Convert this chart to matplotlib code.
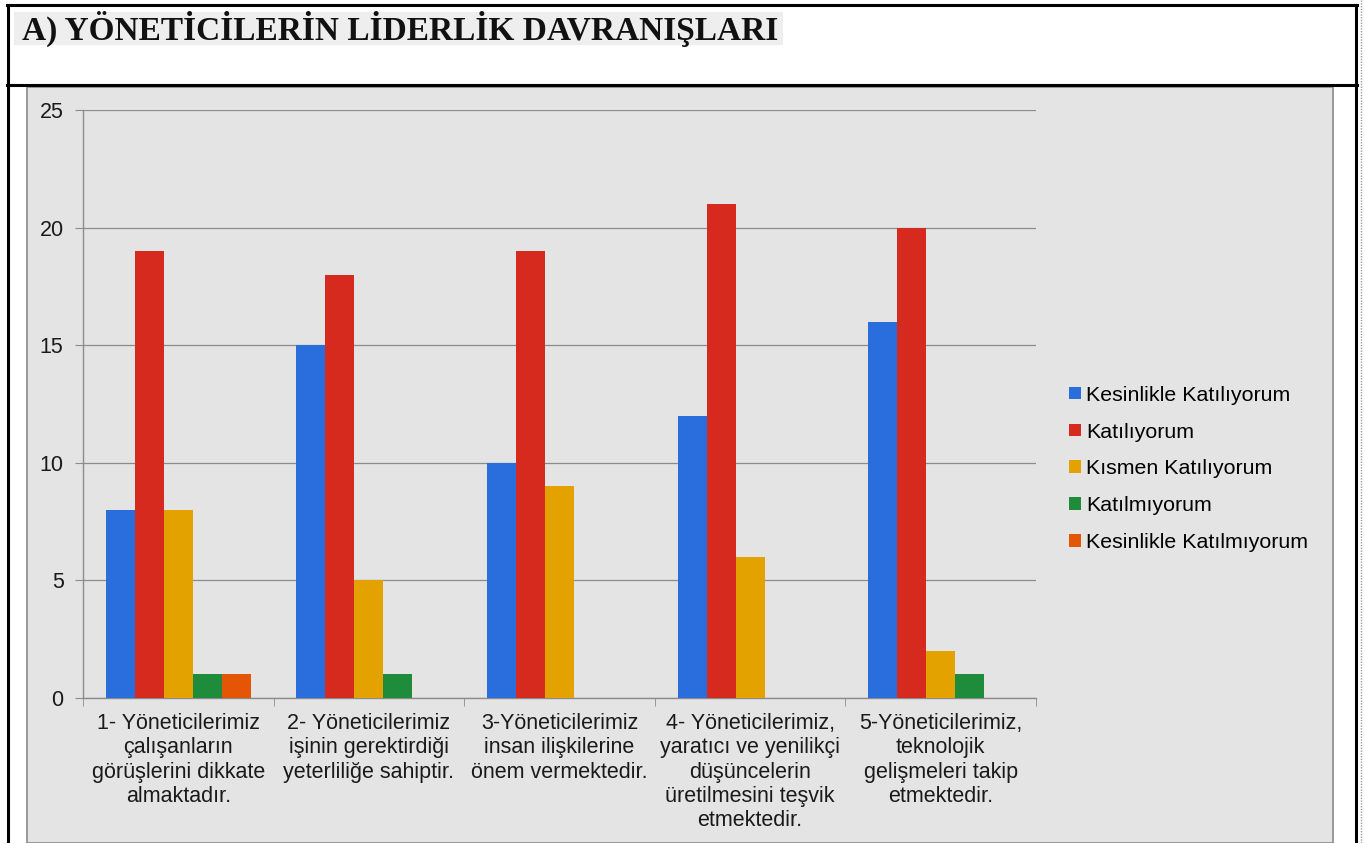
import numpy as np
import matplotlib.pyplot as plt
from matplotlib.lines import Line2D
from matplotlib.patches import Rectangle

plt.rcParams['font.family'] = ['Liberation Sans', 'DejaVu Sans']

categories = [
    "1- Yöneticilerimiz\nçalışanların\ngörüşlerini dikkate\nalmaktadır.",
    "2- Yöneticilerimiz\nişinin gerektirdiği\nyeterliliğe sahiptir.",
    "3-Yöneticilerimiz\ninsan ilişkilerine\nönem vermektedir.",
    "4- Yöneticilerimiz,\nyaratıcı ve yenilikçi\ndüşüncelerin\nüretilmesini teşvik\netmektedir.",
    "5-Yöneticilerimiz,\nteknolojik\ngelişmeleri takip\netmektedir.",
]
series_names = ["Kesinlikle Katılıyorum", "Katılıyorum", "Kısmen Katılıyorum",
                "Katılmıyorum", "Kesinlikle Katılmıyorum"]
kesinlikle_katiliyorum = [8, 15, 10, 12, 16]
katiliyorum = [19, 18, 19, 21, 20]
kismen = [8, 5, 9, 6, 2]
katilmiyorum = [1, 1, 0, 0, 1]
kesinlikle_katilmiyorum = [1, 0, 0, 0, 0]
colors = ["#2a6ddc", "#d62a1e", "#e3a200", "#1f8c3b", "#e45506"]

values = [kesinlikle_katiliyorum, katiliyorum, kismen, katilmiyorum, kesinlikle_katilmiyorum]

W, H = 1365, 843
fig = plt.figure(figsize=(W / 100, H / 100), dpi=100)
fig.patch.set_facecolor("white")

def fx(px):
    return px / W

def fy(py):
    return 1 - py / H

# gray chart background
fig.add_artist(Rectangle((fx(27), fy(843)), fx(1333) - fx(27), fy(87) - fy(843),
                         transform=fig.transFigure, facecolor="#e4e4e4",
                         edgecolor="#8a8a8a", lw=1.2, zorder=0))

# table borders
for x0, y0, x1, y1 in [(7, 5, 1357, 5), (7, 85, 1357, 85), (8, 5, 8, 843), (1356, 5, 1356, 843)]:
    fig.add_artist(Line2D([fx(x0), fx(x1)], [fy(y0), fy(y1)], transform=fig.transFigure,
                          color="black", lw=2.2, zorder=1))
fig.add_artist(Line2D([fx(1361), fx(1361)], [0, 1], transform=fig.transFigure,
                      color="#999999", lw=1.0, ls=(0, (1, 1)), zorder=1))

# title
fig.add_artist(Rectangle((fx(14), fy(45)), fx(783) - fx(14), fy(12) - fy(45),
                         transform=fig.transFigure, facecolor="#eeeeee",
                         edgecolor="none", zorder=1))
fig.text(fx(22), fy(29), "A) YÖNETİCİLERİN LİDERLİK DAVRANIŞLARI", family="Liberation Serif",
         fontweight="bold", fontsize=24, color="#111111", va="center", ha="left", zorder=2)

ax = fig.add_axes([fx(83), fy(698), fx(1036) - fx(83), fy(110) - fy(698)])
ax.set_facecolor("none")

n = len(series_names)
x = np.arange(len(categories))
bw = 0.152
for i, (name, vals, c) in enumerate(zip(series_names, values, colors)):
    ax.bar(x + (i - (n - 1) / 2) * bw, vals, bw, color=c, label=name, zorder=3)

ax.set_xlim(-0.5, len(categories) - 0.5)
ax.set_ylim(0, 25)
ax.set_yticks([0, 5, 10, 15, 20, 25])
ax.grid(axis="y", color="#8c8c8c", lw=0.9, zorder=0)
ax.set_xticks(x)
ax.set_xticklabels(categories, fontsize=15.5, color="#1a1a1a", linespacing=1.2)
ax.set_xticks(np.arange(-0.5, len(categories)), minor=True)
ax.tick_params(axis="x", which="major", length=0, pad=11)
ax.tick_params(axis="x", which="minor", length=6, color="#8c8c8c")
ax.tick_params(axis="y", length=6, color="#8c8c8c", labelsize=15.5, labelcolor="#1a1a1a", pad=8)
for s in ["top", "right"]:
    ax.spines[s].set_visible(False)
for s in ["left", "bottom"]:
    ax.spines[s].set_color("#8c8c8c")
    ax.spines[s].set_linewidth(1.0)

fig.legend(loc="center left", bbox_to_anchor=(fx(1050), fy(469)), frameon=False,
           fontsize=15.4, handlelength=0.55, handleheight=0.55, handletextpad=0.25,
           labelspacing=0.84)

fig.savefig("out.png", dpi=100)
